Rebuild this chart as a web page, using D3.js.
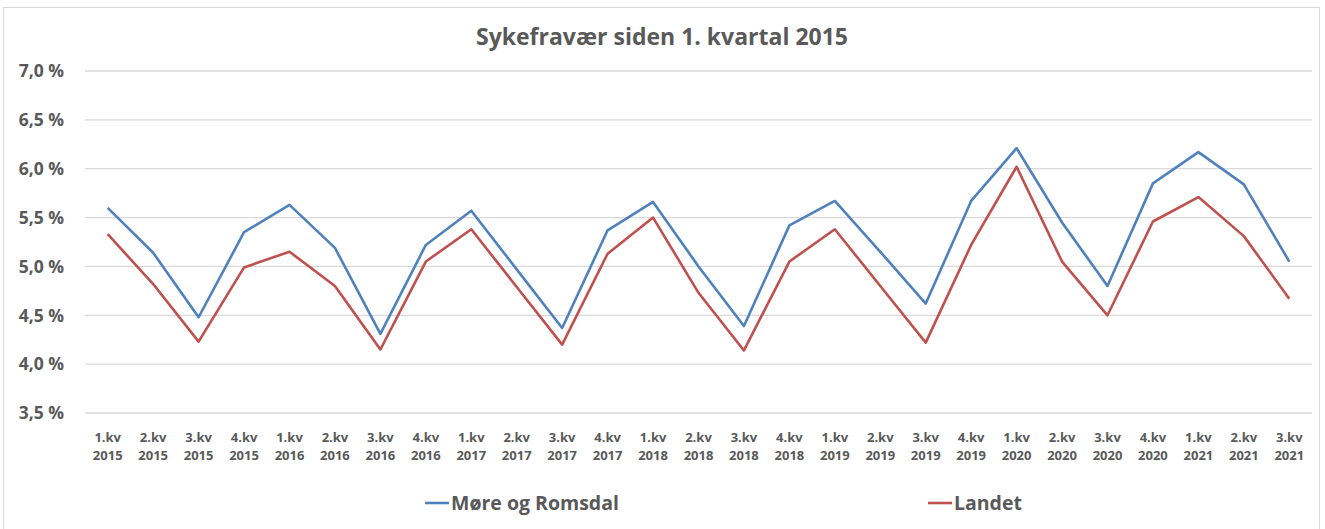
<!DOCTYPE html>
<html>
<head>
<meta charset="utf-8">
<script src="https://cdn.jsdelivr.net/npm/d3@7"></script>
<style>
  body { margin: 0; background: #fff; }
  svg { font-family: "Open Sans", "Noto Sans", sans-serif; }
</style>
</head>
<body>
<div id="chart"></div>
<script>
const quarters = ['1.kv', '2.kv', '3.kv', '4.kv', '1.kv', '2.kv', '3.kv', '4.kv', '1.kv', '2.kv', '3.kv', '4.kv',
  '1.kv', '2.kv', '3.kv', '4.kv', '1.kv', '2.kv', '3.kv', '4.kv', '1.kv', '2.kv', '3.kv', '4.kv', '1.kv', '2.kv', '3.kv'];
const years = ['2015', '2015', '2015', '2015', '2016', '2016', '2016', '2016', '2017', '2017', '2017', '2017',
  '2018', '2018', '2018', '2018', '2019', '2019', '2019', '2019', '2020', '2020', '2020', '2020', '2021', '2021', '2021'];

const moreRomsdal = [5.60, 5.14, 4.48, 5.35, 5.63, 5.19, 4.31, 5.22, 5.57, 4.97, 4.37, 5.37,
  5.66, 5.00, 4.39, 5.42, 5.67, 5.15, 4.62, 5.67, 6.21, 5.45, 4.80, 5.85, 6.17, 5.84, 5.05];
const landet = [5.33, 4.82, 4.23, 4.99, 5.15, 4.80, 4.15, 5.05, 5.38, 4.79, 4.20, 5.13,
  5.50, 4.73, 4.14, 5.05, 5.38, 4.80, 4.22, 5.22, 6.02, 5.05, 4.50, 5.46, 5.71, 5.31, 4.67];

const yTicks = [3.5, 4.0, 4.5, 5.0, 5.5, 6.0, 6.5, 7.0];

const series = [
  { name: 'Møre og Romsdal', values: moreRomsdal, color: '#4F81BD' },
  { name: 'Landet', values: landet, color: '#C0504D' }
];

const W = 1325, H = 529;
const m = { t: 71, r: 13, b: 116, l: 85 };
const iw = W - m.l - m.r, ih = H - m.t - m.b;
const textCol = '#595959';

const svg = d3.select('#chart').append('svg').attr('width', W).attr('height', H);

// outer frame
svg.append('rect')
  .attr('x', 3.5).attr('y', 7.5).attr('width', 1316).attr('height', 530)
  .attr('fill', '#fff').attr('stroke', '#d9d9d9');

const g = svg.append('g').attr('transform', `translate(${m.l},${m.t})`);

const idx = d3.range(quarters.length);
const x = d3.scaleBand().domain(idx).range([0, iw]);
const y = d3.scaleLinear().domain([3.5, 7.0]).range([ih, 0]);

// gridlines
g.append('g')
  .selectAll('line')
  .data(yTicks)
  .join('line')
  .attr('x1', 0).attr('x2', iw)
  .attr('y1', d => y(d)).attr('y2', d => y(d))
  .attr('stroke', '#d9d9d9').attr('stroke-width', 1.3);

// y axis labels
const fmt = d => d.toFixed(1).replace('.', ',') + ' %';
g.append('g')
  .selectAll('text')
  .data(yTicks)
  .join('text')
  .attr('x', -21).attr('y', d => y(d))
  .attr('dy', '0.36em')
  .attr('text-anchor', 'end')
  .attr('fill', textCol)
  .style('font-size', '17.5px').style('font-weight', 700)
  .text(fmt);

// x axis labels
const xl = g.append('g').attr('transform', `translate(0,${ih})`);
xl.selectAll('text.q')
  .data(idx)
  .join('text')
  .attr('class', 'q')
  .attr('x', d => x(d) + x.bandwidth() / 2)
  .attr('y', 29)
  .attr('text-anchor', 'middle')
  .attr('fill', textCol)
  .style('font-size', '13px').style('font-weight', 700)
  .text(d => quarters[d]);
xl.selectAll('text.yr')
  .data(idx)
  .join('text')
  .attr('class', 'yr')
  .attr('x', d => x(d) + x.bandwidth() / 2)
  .attr('y', 47)
  .attr('text-anchor', 'middle')
  .attr('fill', textCol)
  .style('font-size', '13px').style('font-weight', 700)
  .text(d => years[d]);

// lines
const line = d3.line()
  .x((v, i) => x(i) + x.bandwidth() / 2)
  .y(v => y(v));

g.selectAll('path.series')
  .data(series)
  .join('path')
  .attr('class', 'series')
  .attr('d', d => line(d.values))
  .attr('fill', 'none')
  .attr('stroke', d => d.color)
  .attr('stroke-width', 2.6)
  .attr('stroke-linejoin', 'round');

// title
svg.append('text')
  .attr('x', 662).attr('y', 45)
  .attr('text-anchor', 'middle')
  .attr('fill', textCol)
  .style('font-size', '23px').style('font-weight', 700)
  .text('Sykefravær siden 1. kvartal 2015');

// legend
const legX = [425, 928];
const leg = svg.selectAll('g.leg')
  .data(series)
  .join('g')
  .attr('class', 'leg')
  .attr('transform', (d, i) => `translate(${legX[i]},503)`);
leg.append('line')
  .attr('x1', 0).attr('x2', 24)
  .attr('stroke', d => d.color).attr('stroke-width', 2.6);
leg.append('text')
  .attr('x', 26).attr('dy', '0.36em')
  .attr('fill', textCol)
  .style('font-size', '19.5px').style('font-weight', 700)
  .text(d => d.name);
</script>
</body>
</html>
